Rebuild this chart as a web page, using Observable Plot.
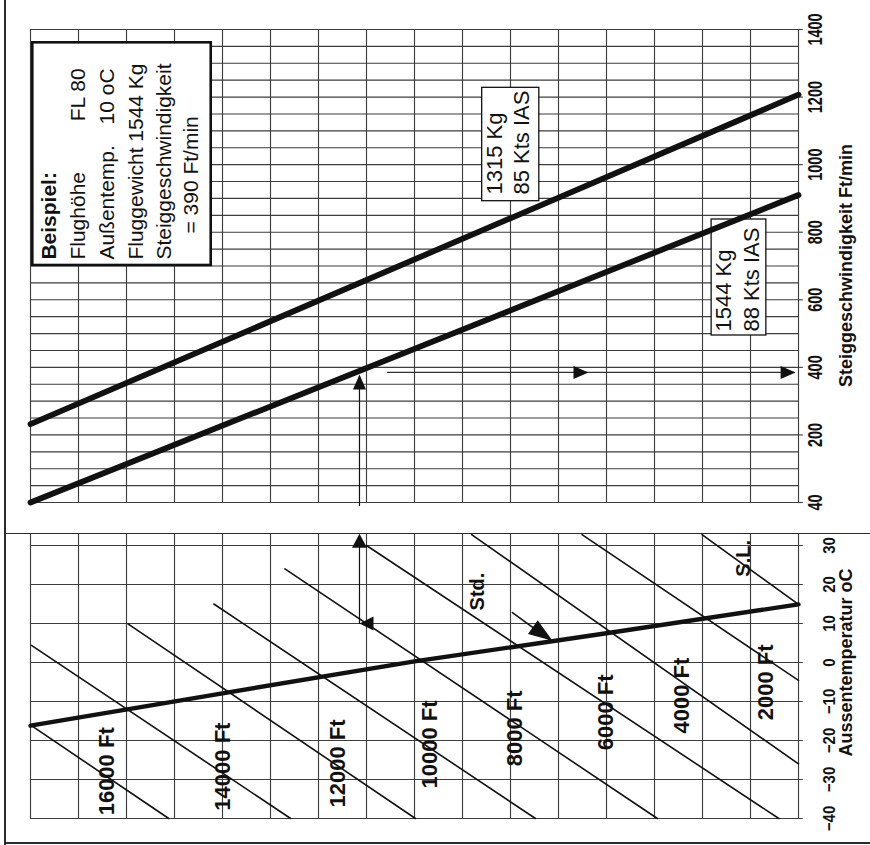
<!DOCTYPE html>
<html>
<head>
<meta charset="utf-8">
<script src="https://cdn.jsdelivr.net/npm/d3@7"></script>
<script src="https://cdn.jsdelivr.net/npm/@observablehq/plot@0.6"></script>
<style>
  body { margin: 0; background: #fff; }
  #wrap { position: relative; width: 870px; height: 845px; background: #fff; overflow: hidden; }
  #top, #bottom { position: absolute; left: 0; }
  #top { top: 0; }
  #bottom { top: 533px; }
  .frame { position: absolute; background: #2a2a2a; }
</style>
</head>
<body>
<div id="wrap">
  <div id="top"></div>
  <div id="bottom"></div>
  <div class="frame" style="left:4px;top:0;width:1.6px;height:845px"></div>
  <div class="frame" style="left:4px;top:842px;width:866px;height:1.6px"></div>
  <div class="frame" style="left:4px;top:532.5px;width:866px;height:1.5px"></div>
</div>
<script>
// ---------------- data ----------------
// horizontal chart units (grid columns), shared by both panels
const gridUnits = [0,1,2,3,4,5,6,7,8,9,10,11,12,13,14,15,16];

// top panel: climb rate (Ft/min)
const rateTicks = [0, 200, 400, 600, 800, 1000, 1200, 1400];
const rateTickLabels = ["40", "200", "400", "600", "800", "1000", "1200", "1400"];
const climbUnits = [0, 16];
const climb1315 = [232, 1207];   // 1315 Kg, 85 Kts IAS
const climb1544 = [0, 910];      // 1544 Kg, 88 Kts IAS

// bottom panel: outside air temperature (°C)
const tempTicks = [30, 20, 10, 0, -10, -20, -30, -40];
const tempTickLabels = ["30", "20", "10", "0", "\u221210", "\u221220", "\u221230", "\u221240"];
const stdUnits = [0, 4, 8, 12, 16];
const stdTemps = [-16.2, -7.9, 0.3, 7.5, 14.9];

const altitudeNames  = ["S.L.", "2000 Ft", "4000 Ft", "6000 Ft", "8000 Ft", "10000 Ft", "12000 Ft", "14000 Ft", "16000 Ft"];
const altStartUnit   = [13.99, 11.49, 9.19, 7.00, 5.30, 3.82, 2.03, 0.02, 0.02];
const altStartTemp   = [32.8, 32.8, 32.8, 30.0, 24.0, 15.0, 9.9, 4.4, -16.2];
const altEndUnit     = [16.0, 16.0, 16.0, 15.59, 13.06, 10.52, 8.02, 5.42, 2.88];
const altEndTemp     = [14.9, -4.6, -26.0, -40, -40, -40, -40, -40, -40];
const altLabelUnit   = [14.85, 15.33, 13.58, 11.98, 10.10, 8.33, 6.40, 4.00, 1.60];
const altLabelTemp   = [26.7, -5.1, -8.5, -12.8, -16.9, -21.0, -25.9, -26.7, -27.9];

// worked example: FL 80, 10 °C, 1544 Kg -> 390 Ft/min
const exampleUnit = 6.854;
const exampleTemp = 10;
const exampleRate = 385;

// ---------------- helpers ----------------
const FONT = '"Liberation Sans", Arial, Helvetica, sans-serif';
const INK = "#111";
const GRID = "#3d3d3d";

function head(angle, len, wid) {
  const a = angle * Math.PI / 180, c = Math.cos(a), s = Math.sin(a);
  return {
    draw(ctx) {
      const bx = -len * c, by = -len * s, px = -s * wid / 2, py = c * wid / 2;
      ctx.moveTo(0, 0);
      ctx.lineTo(bx + px, by + py);
      ctx.lineTo(bx - px, by - py);
      ctx.closePath();
    }
  };
}

// stretch the glyph height of the rotated tick labels (the scanned original is tall)
function stretch(svg, labels, k) {
  const set = new Set(labels);
  d3.select(svg).selectAll("text").each(function () {
    if (!set.has(this.textContent)) return;
    const t = this.getAttribute("transform");
    if (t && t.indexOf("scale") < 0) this.setAttribute("transform", t + ` scale(1,${k})`);
  });
}

// ---------------- top panel ----------------
const climbData = [
  ...climbUnits.map((u, i) => ({u, rate: climb1315[i], mass: "1315"})),
  ...climbUnits.map((u, i) => ({u, rate: climb1544[i], mass: "1544"}))
];
const rateGrid = d3.range(0, 1401, 50);

const exampleBox = [{u1: 0.048, u2: 3.765, r1: 701.5, r2: 1360.6}];
const weightBoxes = [
  {u1: 9.41, u2: 10.60, r1: 891.8, r2: 1227.4},
  {u1: 14.19, u2: 15.33, r1: 494.3, r2: 837.6}
];
const exampleStart = [
  {u: 0.985, rate: 719, text: "Flughöhe"},
  {u: 1.60, rate: 719, text: "Außentemp."},
  {u: 2.194, rate: 719, text: "Fluggewicht 1544 Kg"},
  {u: 2.777, rate: 719, text: "Steiggeschwindigkeit"},
  {u: 3.35, rate: 796, text: "= 390 Ft/min"}
];
const exampleEnd = [
  {u: 0.985, rate: 1285, text: "FL 80"},
  {u: 1.60, rate: 1285, text: "10 oC"}
];
const weightLabels = [
  {u: 9.68, rate: 911.6, text: "1315 Kg"},
  {u: 10.24, rate: 911.6, text: "85 Kts IAS"},
  {u: 14.45, rate: 506, text: "1544 Kg"},
  {u: 15.04, rate: 506, text: "88 Kts IAS"}
];

const topPlot = Plot.plot({
  width: 870, height: 533,
  marginLeft: 30, marginRight: 72, marginTop: 29, marginBottom: 31,
  x: {domain: [0, 16], axis: null},
  y: {domain: [0, 1400], axis: null},
  style: {fontFamily: FONT, background: "transparent", overflow: "visible", color: INK},
  marks: [
    Plot.ruleX(gridUnits, {y1: 0, y2: 1400, stroke: GRID, strokeWidth: 1.15}),
    Plot.ruleY(rateGrid, {x1: 0, x2: 16, stroke: GRID, strokeWidth: 1.15}),
    Plot.ruleY(rateTicks, {x1: 16, x2: 16.1, stroke: GRID, strokeWidth: 1.15}),
    Plot.rect(exampleBox, {x1: "u1", x2: "u2", y1: "r1", y2: "r2", fill: "white", stroke: INK, strokeWidth: 2.6}),
    Plot.rect(weightBoxes, {x1: "u1", x2: "u2", y1: "r1", y2: "r2", fill: "white", stroke: INK, strokeWidth: 1.3}),
    Plot.line(climbData, {x: "u", y: "rate", z: "mass", stroke: INK, strokeWidth: 5.8}),
    // worked example path
    Plot.line([{u: exampleUnit, rate: -9}, {u: exampleUnit, rate: 372}], {x: "u", y: "rate", stroke: INK, strokeWidth: 1.2}),
    Plot.line([{u: 7.44, rate: exampleRate}, {u: 15.9, rate: exampleRate}], {x: "u", y: "rate", stroke: "#333", strokeWidth: 1.2}),
    Plot.dot([{u: exampleUnit, rate: 379}], {x: "u", y: "rate", r: 5, symbol: head(-90, 15, 13), fill: INK, stroke: "none"}),
    Plot.dot([{u: 11.625, rate: exampleRate}, {u: 15.94, rate: exampleRate}], {x: "u", y: "rate", r: 5, symbol: head(0, 15, 13), fill: INK, stroke: "none"}),
    // example box text
    Plot.text([{u: 0.381, rate: 719, text: "Beispiel:"}], {x: "u", y: "rate", text: "text", rotate: -90, textAnchor: "start", lineAnchor: "middle", fontSize: 21, fontWeight: "bold", fill: INK}),
    Plot.text(exampleStart, {x: "u", y: "rate", text: "text", rotate: -90, textAnchor: "start", lineAnchor: "middle", fontSize: 21, fill: INK}),
    Plot.text(exampleEnd, {x: "u", y: "rate", text: "text", rotate: -90, textAnchor: "end", lineAnchor: "middle", fontSize: 21, fill: INK}),
    Plot.text(weightLabels, {x: "u", y: "rate", text: "text", rotate: -90, textAnchor: "start", lineAnchor: "middle", fontSize: 22, fill: INK}),
    // axis
    Plot.text(rateTicks.map((v, i) => ({u: 16.36, rate: v, text: rateTickLabels[i]})),
      {x: "u", y: "rate", text: "text", rotate: -90, textAnchor: "middle", lineAnchor: "middle", fontSize: 14.5, fontWeight: "bold", fill: INK}),
    Plot.text([{u: 17.0, rate: 701.5, text: "Steiggeschwindigkeit Ft/min"}],
      {x: "u", y: "rate", text: "text", rotate: -90, textAnchor: "middle", lineAnchor: "middle", fontSize: 18, fontWeight: "bold", fill: INK})
  ]
});
stretch(topPlot, rateTickLabels, 1.4);
document.getElementById("top").appendChild(topPlot);

// ---------------- bottom panel ----------------
const stdData = stdUnits.map((u, i) => ({u, t: stdTemps[i]}));
const altData = altitudeNames.flatMap((name, i) => [
  {name, u: altStartUnit[i], t: altStartTemp[i]},
  {name, u: altEndUnit[i], t: altEndTemp[i]}
]);
const altLabels = altitudeNames.map((name, i) => ({name, u: altLabelUnit[i], t: altLabelTemp[i]}));

const bottomPlot = Plot.plot({
  width: 870, height: 312,
  marginLeft: 30, marginRight: 72, marginTop: 12, marginBottom: 27,
  x: {domain: [0, 16], axis: null},
  y: {domain: [-40, 30], axis: null},
  style: {fontFamily: FONT, background: "transparent", overflow: "visible", color: INK},
  marks: [
    Plot.ruleX(gridUnits, {y1: -40, y2: 32.8, stroke: GRID, strokeWidth: 1.15}),
    Plot.ruleY(tempTicks, {x1: 0, x2: 16.1, stroke: GRID, strokeWidth: 1.15}),
    Plot.line(altData, {x: "u", y: "t", z: "name", stroke: INK, strokeWidth: 1.6}),
    Plot.line(stdData, {x: "u", y: "t", stroke: INK, strokeWidth: 4.4}),
    // worked example
    Plot.line([{u: exampleUnit, t: exampleTemp}, {u: exampleUnit, t: 31}], {x: "u", y: "t", stroke: INK, strokeWidth: 1.2}),
    Plot.dot([{u: exampleUnit, t: 33.0}], {x: "u", y: "t", r: 5, symbol: head(-90, 14, 15), fill: INK, stroke: "none"}),
    Plot.dot([{u: exampleUnit, t: exampleTemp}], {x: "u", y: "t", r: 5, symbol: head(180, 14, 14), fill: INK, stroke: "none"}),
    Plot.line([{u: 10.04, t: 12.8}, {u: 10.8, t: 6.0}], {x: "u", y: "t", stroke: INK, strokeWidth: 1.6}),
    Plot.dot([{u: 10.875, t: 5.55}], {x: "u", y: "t", r: 5, symbol: head(35, 24, 17), fill: INK, stroke: "none"}),
    // labels
    Plot.text(altLabels.filter(d => d.name !== "S.L."), {x: "u", y: "t", text: "name", rotate: -90, textAnchor: "middle", lineAnchor: "middle", fontSize: 22, fontWeight: "bold", fill: INK}),
    Plot.text(altLabels.filter(d => d.name === "S.L."), {x: "u", y: "t", text: "name", rotate: -90, textAnchor: "middle", lineAnchor: "middle", fontSize: 20, fontWeight: "bold", fill: INK}),
    Plot.text([{u: 9.31, t: 18.2, text: "Std."}], {x: "u", y: "t", text: "text", rotate: -90, textAnchor: "middle", lineAnchor: "middle", fontSize: 20, fontWeight: "bold", fill: INK}),
    // axis
    Plot.text(tempTicks.map((v, i) => ({u: 16.65, t: v, text: tempTickLabels[i]})),
      {x: "u", y: "t", text: "text", rotate: -90, textAnchor: "middle", lineAnchor: "middle", fontSize: 15, fontWeight: "bold", fill: INK}),
    Plot.text([{u: 17.0, t: 0, text: "Aussentemperatur oC"}],
      {x: "u", y: "t", text: "text", rotate: -90, textAnchor: "middle", lineAnchor: "middle", fontSize: 18, fontWeight: "bold", fill: INK})
  ]
});
stretch(bottomPlot, tempTickLabels, 1.15);
document.getElementById("bottom").appendChild(bottomPlot);
</script>
</body>
</html>
